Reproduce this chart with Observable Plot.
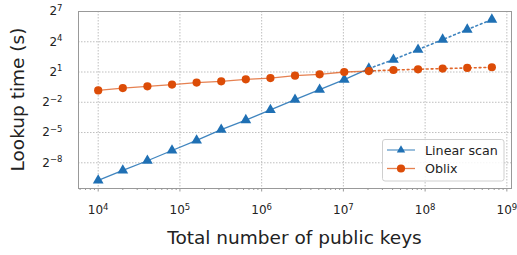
<!DOCTYPE html>
<html><head><meta charset="utf-8">
<script src="https://cdn.jsdelivr.net/npm/d3@7"></script>
<script src="https://cdn.jsdelivr.net/npm/@observablehq/plot@0.6"></script>
<style>
html,body{margin:0;padding:0;background:#fff;}
svg{display:block;}
</style></head><body><div id="chart"></div>
<script>
const publicKeys = [1e4, 2e4, 4e4, 8e4, 1.6e5, 3.2e5, 6.4e5, 1.28e6, 2.56e6, 5.12e6, 1.024e7, 2.048e7, 4.096e7, 8.192e7, 1.6384e8, 3.2768e8, 6.5536e8];
const linearScan = [0.00116, 0.00231, 0.00449, 0.0091, 0.0182, 0.0379, 0.0738, 0.148, 0.299, 0.595, 1.19, 2.53, 4.69, 9.32, 18.6, 37.0, 73.5];
const oblix = [0.566, 0.664, 0.747, 0.841, 0.966, 1.057, 1.214, 1.32, 1.558, 1.705, 2.0, 2.14, 2.30, 2.41, 2.53, 2.64, 2.77];
const lastMeasured = 2.048e7;
const seriesNames = ["Linear scan", "Oblix"];
const seriesColors = ["#1f70b4", "#dc4c07"];
const xTicks = [1e4, 1e5, 1e6, 1e7, 1e8, 1e9];
const xTickLabels = ["10^4", "10^5", "10^6", "10^7", "10^8", "10^9"];
const xMinorTicks = [6e3,7e3,8e3,9e3,2e4,3e4,4e4,5e4,6e4,7e4,8e4,9e4,2e5,3e5,4e5,5e5,6e5,7e5,8e5,9e5,2e6,3e6,4e6,5e6,6e6,7e6,8e6,9e6,2e7,3e7,4e7,5e7,6e7,7e7,8e7,9e7,2e8,3e8,4e8,5e8,6e8,7e8,8e8,9e8];
const yTicks = [0.00390625, 0.03125, 0.25, 2, 16, 128];
const yTickLabels = ["2^\u22128", "2^\u22125", "2^\u22122", "2^1", "2^4", "2^7"];
const xTitle = "Total number of public keys";
const yTitle = "Lookup time (s)";

const rows = publicKeys.flatMap((k, i) => [
  {k, t: linearScan[i], s: seriesNames[0]},
  {k, t: oblix[i], s: seriesNames[1]}
]);
const measured = rows.filter(d => d.k <= lastMeasured);
const projected = rows.filter(d => d.k >= lastMeasured);

const plot = Plot.plot({
  width: 517, height: 255,
  marginLeft: 78, marginRight: 6, marginTop: 11, marginBottom: 67,
  style: {fontFamily: "DejaVu Sans", fontSize: "12px", color: "#222", background: "#fff"},
  x: {type: "log", domain: [5741, 1.14e9]},
  y: {type: "log", base: 2, domain: [Math.pow(2, -10.55), Math.pow(2, 7.0)]},
  color: {domain: seriesNames, range: seriesColors},
  marks: [
    Plot.gridX(xTicks, {stroke: "#b8b8b8", strokeOpacity: 1, strokeDasharray: "1.5,1.5", strokeWidth: 0.9}),
    Plot.gridY(yTicks, {stroke: "#b8b8b8", strokeOpacity: 1, strokeDasharray: "1.5,1.5", strokeWidth: 0.9}),
    Plot.frame({stroke: "#999", strokeWidth: 1}),
    Plot.axisX(xMinorTicks, {tickSize: 2, stroke: "#999", tickFormat: () => "", label: null}),
    Plot.axisX(xTicks, {tickSize: 3.5, tickPadding: 13.5, stroke: "#999", fill: "#222", tickFormat: d => xTickLabels[xTicks.indexOf(d)], label: null}),
    Plot.axisY(yTicks, {tickSize: 0, tickPadding: 16, fill: "#222", tickFormat: d => yTickLabels[yTicks.indexOf(d)], label: null}),
    Plot.line(measured.filter(d => d.s === seriesNames[0]), {x: "k", y: "t", stroke: "s", strokeWidth: 1.3, strokeOpacity: 0.85}),
    Plot.line(projected.filter(d => d.s === seriesNames[0]), {x: "k", y: "t", stroke: "s", strokeWidth: 1.6, strokeOpacity: 0.85, strokeDasharray: "1.8,3"}),
    Plot.dot(rows.filter(d => d.s === seriesNames[0]), {x: "k", y: "t", fill: "s", symbol: "triangle", r: 4}),
    Plot.line(measured.filter(d => d.s === seriesNames[1]), {x: "k", y: "t", stroke: "s", strokeWidth: 1.3, strokeOpacity: 0.7}),
    Plot.line(projected.filter(d => d.s === seriesNames[1]), {x: "k", y: "t", stroke: "s", strokeWidth: 1.6, strokeOpacity: 0.85, strokeDasharray: "1.8,3"}),
    Plot.dot(rows.filter(d => d.s === seriesNames[1]), {x: "k", y: "t", fill: "s", symbol: "circle", r: 4.1})
  ]
});

document.getElementById("chart").appendChild(plot);
const svg = d3.select(plot);

// superscript tick labels
svg.selectAll('g[aria-label="x-axis tick label"] text, g[aria-label="y-axis tick label"] text').each(function() {
  const txt = this.textContent;
  if (!txt.includes("^")) return;
  const [base, exp] = txt.split("^");
  const el = d3.select(this);
  el.text(null);
  el.append("tspan").text(base);
  el.append("tspan").attr("dy", "-4.5").attr("font-size", "8.5px").text(exp);
});

// axis titles
svg.append("text")
  .attr("x", 294.5).attr("y", 244)
  .attr("text-anchor", "middle")
  .attr("font-family", "DejaVu Sans").attr("font-size", "18.5px").attr("fill", "#222")
  .text(xTitle);
svg.append("text")
  .attr("transform", "translate(24,99.5) rotate(-90)")
  .attr("text-anchor", "middle")
  .attr("font-family", "DejaVu Sans").attr("font-size", "18.5px").attr("fill", "#222")
  .text(yTitle);

// legend
const lg = svg.append("g").attr("font-family", "DejaVu Sans").attr("font-size", "12.7px").attr("text-anchor", "start");
lg.append("rect").attr("x", 382.5).attr("y", 139.5).attr("width", 121.5).attr("height", 41.5)
  .attr("rx", 2.5).attr("fill", "#fff").attr("fill-opacity", 0.85).attr("stroke", "#cfcfcf").attr("stroke-width", 1);
const rowsY = [150, 168.5];
seriesNames.forEach((name, i) => {
  const y = rowsY[i];
  lg.append("line").attr("x1", 387).attr("x2", 415).attr("y1", y).attr("y2", y)
    .attr("stroke", seriesColors[i]).attr("stroke-width", 1.3).attr("stroke-opacity", 0.7);
  if (i === 0) {
    lg.append("path").attr("d", d3.symbol(d3.symbolTriangle2, Math.PI * 4 * 4)())
      .attr("transform", `translate(401,${y})`).attr("fill", seriesColors[i]);
  } else {
    lg.append("circle").attr("cx", 401).attr("cy", y).attr("r", 4.1).attr("fill", seriesColors[i]);
  }
  lg.append("text").attr("x", 425).attr("y", y).attr("dy", "0.36em").attr("text-anchor", "start").attr("fill", "#222").text(name);
});
</script>
</body></html>
